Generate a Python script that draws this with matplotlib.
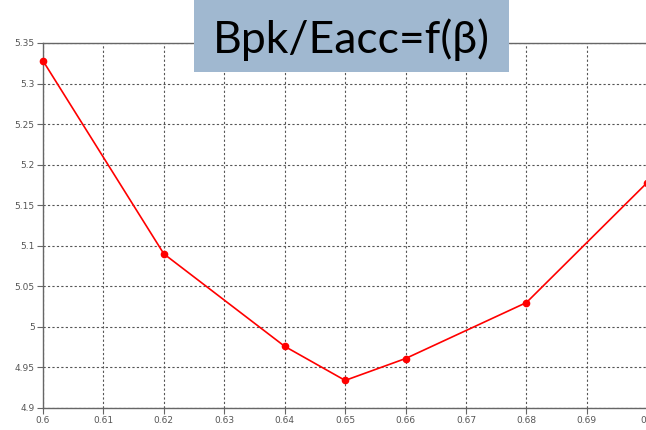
import matplotlib
matplotlib.use("Agg")
import matplotlib.pyplot as plt
from matplotlib.patches import Rectangle

beta = [0.60, 0.62, 0.64, 0.65, 0.66, 0.68, 0.70]
ratio = [5.328, 5.090, 4.976, 4.934, 4.961, 5.030, 5.178]
x_ticks = [0.60, 0.61, 0.62, 0.63, 0.64, 0.65, 0.66, 0.67, 0.68, 0.69, 0.70]
x_labels = ["0.6", "0.61", "0.62", "0.63", "0.64", "0.65", "0.66", "0.67", "0.68", "0.69", "0.7"]
y_ticks = [4.9, 4.95, 5.0, 5.05, 5.1, 5.15, 5.2, 5.25, 5.3, 5.35]
y_labels = ["4.9", "4.95", "5", "5.05", "5.1", "5.15", "5.2", "5.25", "5.3", "5.35"]

fig = plt.figure(figsize=(6.46, 4.30), dpi=100)
ax = fig.add_axes([43 / 646, 1 - 408 / 430, 1 - 43 / 646 + 0.002, (408 - 43) / 430])

ax.plot(beta, ratio, color="#ff0000", linewidth=1.2, marker="o", markersize=4.5, clip_on=False, zorder=3)

ax.set_xlim(0.60, 0.70)
ax.set_ylim(4.9, 5.35)
ax.set_xticks(x_ticks, x_labels)
ax.set_yticks(y_ticks, y_labels)
ax.grid(True, color="#555555", linestyle=(0, (2, 2)), linewidth=0.8)
for side in ["left", "bottom", "top"]:
    ax.spines[side].set_color("#666666")
    ax.spines[side].set_linewidth(1.0)
ax.spines["right"].set_visible(False)
ax.tick_params(direction="out", length=4, width=0.8, color="#666666", labelcolor="#555555", labelsize=6.5, pad=2)

# title box sitting on the top of the plot
fig.patches.append(Rectangle((194 / 646, 1 - 72 / 430), (509 - 194) / 646, 72 / 430,
                             transform=fig.transFigure, facecolor="#a0b8d0", edgecolor="none", zorder=5))
fig.text((194 + 509) / 2 / 646, 1 - 40 / 430, "Bpk/Eacc=f(β)", ha="center", va="center",
         fontsize=32, family="Lato", color="black", zorder=6)

fig.savefig("out.png", dpi=100)
